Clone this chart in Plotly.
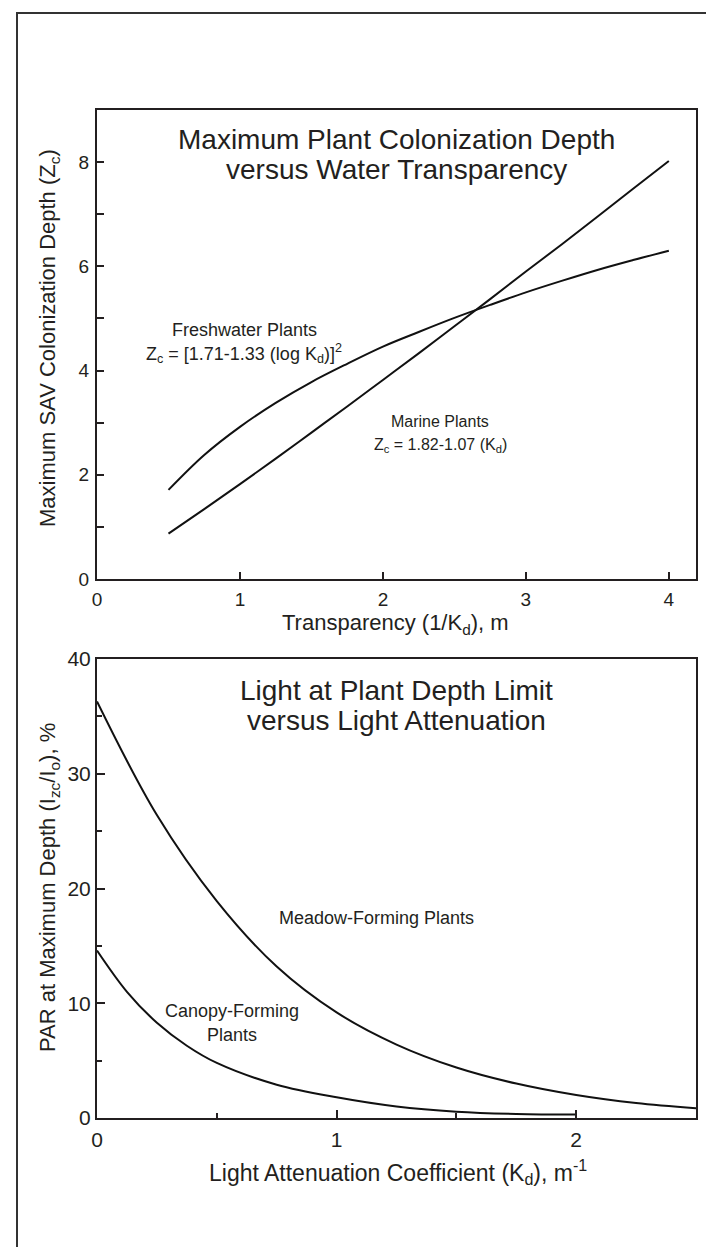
import plotly.graph_objects as go

# ---- data ----
transparency = [0.5, 0.75, 1.0, 1.25, 1.5, 1.75, 2.0, 2.25, 2.5, 2.75, 3.0, 3.25, 3.5, 3.75, 4.0]
freshwater_zc = [1.71, 2.38, 2.92, 3.38, 3.78, 4.13, 4.46, 4.74, 5.01, 5.26, 5.50, 5.72, 5.93, 6.12, 6.30]
marine_zc = [0.87, 1.34, 1.82, 2.31, 2.81, 3.31, 3.82, 4.33, 4.85, 5.37, 5.90, 6.42, 6.95, 7.49, 8.02]

kd_meadow = [0, 0.25, 0.5, 0.75, 1.0, 1.25, 1.5, 1.75, 2.0, 2.25, 2.5]
par_meadow = [36.3, 26.4, 18.9, 13.2, 9.2, 6.4, 4.4, 3.0, 2.0, 1.3, 0.85]

kd_canopy = [0, 0.125, 0.25, 0.375, 0.5, 0.75, 1.0, 1.25, 1.5, 1.75, 2.0]
par_canopy = [14.6, 11.0, 8.3, 6.3, 4.8, 2.9, 1.8, 1.0, 0.55, 0.35, 0.3]

top_xticks = [0, 1, 2, 3, 4]
top_yticks = [0, 2, 4, 6, 8]
bot_xticks = [0, 1, 2]
bot_yticks = [0, 10, 20, 30, 40]

FONT = "Liberation Sans, Arial, Helvetica, sans-serif"
INK = "#231f20"

fig = go.Figure()
line_style = dict(color="#111111", width=2, shape="spline")
fig.add_trace(go.Scatter(x=transparency, y=freshwater_zc, mode="lines", line=line_style,
                         xaxis="x", yaxis="y", showlegend=False, hoverinfo="skip"))
fig.add_trace(go.Scatter(x=transparency, y=marine_zc, mode="lines", line=line_style,
                         xaxis="x", yaxis="y", showlegend=False, hoverinfo="skip"))
fig.add_trace(go.Scatter(x=kd_meadow, y=par_meadow, mode="lines", line=line_style,
                         xaxis="x2", yaxis="y2", showlegend=False, hoverinfo="skip"))
fig.add_trace(go.Scatter(x=kd_canopy, y=par_canopy, mode="lines", line=line_style,
                         xaxis="x2", yaxis="y2", showlegend=False, hoverinfo="skip"))

W, H = 714, 1247
L, R, T, B = 89, 26, 102, 137
plot_h = H - T - B  # 1008
top_lo = (1110 - 571) / plot_h
bot_hi = (1110 - 651) / plot_h

axis_common = dict(showline=True, linecolor=INK, linewidth=2, mirror=True,
                   showgrid=False, zeroline=False, ticks="inside", tickcolor=INK,
                   tickwidth=1.5)
top_font = dict(family=FONT, size=19, color=INK)
bot_font = dict(family=FONT, size=21, color=INK)

fig.update_layout(
    width=W, height=H,
    margin=dict(l=L, r=R, t=T, b=B),
    paper_bgcolor="white", plot_bgcolor="white",
    font=dict(family=FONT, color=INK),
    xaxis=dict(domain=[0, 1], anchor="y", range=[0, 4.19], tickvals=top_xticks, ticklen=7,
               ticklabelstandoff=2, tickfont=top_font, **axis_common),
    yaxis=dict(domain=[top_lo, 1], anchor="x", range=[0, 9], tickvals=top_yticks, ticklen=7,
               minor=dict(ticks="inside", dtick=1, ticklen=7, tickcolor=INK, tickwidth=1.5),
               ticklabelstandoff=2, tickfont=top_font, **axis_common),
    xaxis2=dict(domain=[0, 1], anchor="y2", range=[0, 2.5], tickvals=bot_xticks, ticklen=8,
                minor=dict(ticks="inside", tickvals=[0.5, 1.5], ticklen=5, tickcolor=INK, tickwidth=1.5),
                ticklabelstandoff=2, tickfont=bot_font, **axis_common),
    yaxis2=dict(domain=[0, bot_hi], anchor="x2", range=[0, 40], tickvals=bot_yticks, ticklen=8,
                minor=dict(ticks="inside", tickvals=[5, 15, 25, 35], ticklen=5, tickcolor=INK, tickwidth=1.5),
                ticklabelstandoff=0, tickfont=bot_font, **axis_common),
)

# outer frame (open at the bottom)
fx0 = (9 - L) / (W - L - R)
fx1 = (708 - L) / (W - L - R)
fy1 = 1 + (T - 5) / plot_h
fy0 = (1110 - 1260) / plot_h
fig.add_shape(type="rect", xref="paper", yref="paper", x0=fx0, x1=fx1, y0=fy0, y1=fy1,
              line=dict(color="#333333", width=2), layer="below")

def px_to_paper_y(py):
    return (1110 - py) / plot_h

def px_to_paper_x(px):
    return (px - L) / (W - L - R)

anns = []
# chart titles
for txt, py in [("Maximum Plant Colonization Depth", 131), ("versus Water Transparency", 161),
                ("Light at Plant Depth Limit", 682), ("versus Light Attenuation", 712)]:
    anns.append(dict(text=txt, xref="paper", yref="paper", x=0.5, y=px_to_paper_y(py),
                     xanchor="center", yanchor="middle", showarrow=False,
                     font=dict(family=FONT, size=28, color=INK)))
# axis titles
anns.append(dict(text="Transparency (1/K<sub>d</sub>), m", xref="paper", yref="paper",
                 x=px_to_paper_x(387), y=px_to_paper_y(616), xanchor="center", yanchor="middle",
                 showarrow=False, font=dict(family=FONT, size=22, color=INK)))
anns.append(dict(text="Light Attenuation Coefficient (K<sub>d</sub>), m<sup>-1</sup>", xref="paper", yref="paper",
                 x=px_to_paper_x(390), y=px_to_paper_y(1164), xanchor="center", yanchor="middle",
                 showarrow=False, font=dict(family=FONT, size=23, color=INK)))
anns.append(dict(text="Maximum SAV Colonization Depth (Z<sub>c</sub>)", xref="paper", yref="paper",
                 x=px_to_paper_x(41), y=px_to_paper_y(330), xanchor="center", yanchor="middle",
                 textangle=-90, showarrow=False, font=dict(family=FONT, size=22, color=INK)))
anns.append(dict(text="PAR at Maximum Depth (I<sub>zc</sub>/I<sub>o</sub>), %", xref="paper", yref="paper",
                 x=px_to_paper_x(41), y=px_to_paper_y(880), xanchor="center", yanchor="middle",
                 textangle=-90, showarrow=False, font=dict(family=FONT, size=22, color=INK)))

# curve labels (data coordinates)
for txt, x, y, ax, ay, sz in [
    ("Freshwater Plants", 1.03, 4.77, "x", "y", 18),
    ("Z<sub>c</sub> = [1.71-1.33 (log K<sub>d</sub>)]<sup>2</sup>", 1.03, 4.33, "x", "y", 18),
    ("Marine Plants", 2.40, 3.03, "x", "y", 16),
    ("Z<sub>c</sub> = 1.82-1.07 (K<sub>d</sub>)", 2.40, 2.57, "x", "y", 16),
    ("Meadow-Forming Plants", 1.167, 17.4, "x2", "y2", 18),
    ("Canopy-Forming", 0.5625, 9.3, "x2", "y2", 18),
    ("Plants", 0.5625, 7.2, "x2", "y2", 18),
]:
    anns.append(dict(text=txt, x=x, y=y, xref=ax, yref=ay, xanchor="center", yanchor="middle",
                     showarrow=False, font=dict(family=FONT, size=sz, color=INK)))

fig.update_layout(annotations=anns)
fig.write_html("out.html")
